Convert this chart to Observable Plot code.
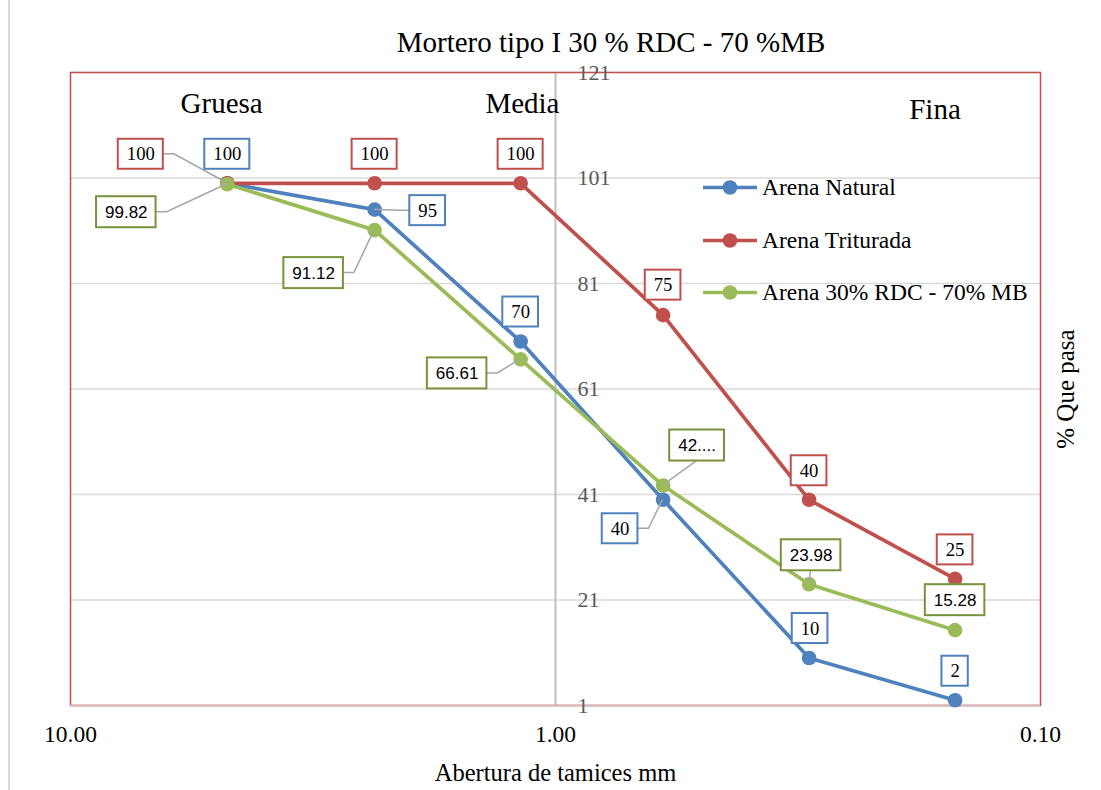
<!DOCTYPE html>
<html>
<head>
<meta charset="utf-8">
<script src="https://cdn.jsdelivr.net/npm/d3@7"></script>
<script src="https://cdn.jsdelivr.net/npm/@observablehq/plot@0.6"></script>
<style>
  html, body { margin: 0; padding: 0; background: #fff; }
  #wrap { position: relative; width: 1101px; height: 790px; overflow: hidden; font-family: "Liberation Serif", serif; }
  #chart { position: absolute; left: 0; top: 0; }
  #title { position: absolute; left: 611px; top: 42px; transform: translate(-50%, -50%); font-size: 29px; white-space: nowrap; color: #000; }
  #legend { position: absolute; left: 703px; top: 0; }
  .li { position: absolute; left: 0; display: flex; align-items: center; white-space: nowrap; font-size: 23.5px; color: #000; transform: translateY(-50%); }
  .li svg { margin-right: 3px; }
  #border { position: absolute; left: 8px; top: 0; width: 2px; height: 790px; background: #d9d9d9; }
</style>
</head>
<body>
<div id="wrap">
  <div id="chart"></div>
  <div id="border"></div>
  <div id="title"></div>
  <div id="legend"></div>
</div>
<script>
// ---- data ----
const sieves = [4.75, 2.36, 1.18, 0.6, 0.3, 0.15];
const natural = [100, 95, 70, 40, 10, 2];
const triturada = [100, 100, 100, 75, 40, 25];
const mezcla = [99.82, 91.12, 66.61, 42.7, 23.98, 15.28];
const seriesNames = ["Arena Natural", "Arena Triturada", "Arena 30% RDC - 70% MB"];
const seriesColors = ["#4f81bd", "#c0504d", "#9bbb59"];
const boxColors = ["#4f81bd", "#c0504d", "#77933c"];
const yTicks = [1, 21, 41, 61, 81, 101, 121];
const xTicks = [10, 1, 0.1];
const zoneNames = ["Gruesa", "Media", "Fina"];
const zoneX = [4.88, 1.17, 0.165];
const zoneY = [115, 115, 114];
const titleText = "Mortero tipo I 30 % RDC - 70 %MB";
const xLabel = "Abertura de tamices mm";
const yLabel = "% Que pasa";

// ---- label layout (pixel offsets from point, leader style) ----
const labelLayout = [
  [[0,-29,"none"],[53,1,"side"],[0,-29.5,"none"],[-43,29,"side"],[1,-29.5,"none"],[0,-29,"none"]],
  [[-86.5,-29,"side"],[0,-29,"none"],[0,-29,"none"],[0,-30,"none"],[0,-29,"none"],[0,-29,"none"]],
  [[-101,28,"side"],[-61,43,"side"],[-63.5,14,"side"],[34,-40,"bottom"],[2,-29,"bottom"],[0,-30,"none"]]
];
const truncated = [[], [], [3]];

const allValues = [natural, triturada, mezcla];
const rows = [];
allValues.forEach((vals, s) => vals.forEach((v, i) => rows.push({series: seriesNames[s], s, i, x: sieves[i], y: v})));

const labelItems = [];
allValues.forEach((vals, s) => vals.forEach((v, i) => {
  const [dx, dy, leader] = labelLayout[s][i];
  let text;
  if (s === 2) text = truncated[s].includes(i) ? String(Math.floor(v)) + "...." : d3.format(".2f")(v);
  else text = String(v);
  labelItems.push({s, i, x: sieves[i], y: v, dx, dy, leader, text});
}));

const serif = "Liberation Serif";
const sans = "Liberation Sans";

const marks = [
  Plot.ruleY(yTicks.slice(1), {stroke: "#d9d9d9", strokeWidth: 1.5}),
  Plot.ruleX([1], {stroke: "#bfbfbf", strokeWidth: 2}),
  Plot.frame({stroke: "#c0504d", strokeWidth: 1.5}),
  Plot.ruleY([1], {stroke: "#d6b8b8", strokeWidth: 2}),
  ...seriesNames.map((name, s) => Plot.line(rows.filter(r => r.s === s), {x: "x", y: "y", stroke: seriesColors[s], strokeWidth: 3.7})),
  ...seriesNames.map((name, s) => Plot.dot(rows.filter(r => r.s === s), {x: "x", y: "y", fill: seriesColors[s], r: 7.3, stroke: "none"})),
  Plot.text(yTicks, {x: () => 1, y: d => d, text: d => String(d), textAnchor: "start", dx: 22, fill: "#595959", fontSize: 22, fontFamily: serif}),
  Plot.text(zoneNames, {x: (d, i) => zoneX[i], y: (d, i) => zoneY[i], text: d => d, fontSize: 29, fontFamily: serif, fill: "#000"}),
  Plot.text(xTicks, {x: d => d, frameAnchor: "bottom", lineAnchor: "middle", dy: 29, text: d => d3.format(".2f")(d), fontSize: 23.5, fontFamily: serif, fill: "#000"}),
  Plot.text([xLabel], {frameAnchor: "bottom", lineAnchor: "middle", textAnchor: "middle", dy: 68, text: d => d, fontSize: 24.5, fontFamily: serif, fill: "#000"}),
  Plot.text([yLabel], {frameAnchor: "right", textAnchor: "middle", lineAnchor: "middle", dx: 25, rotate: -90, text: d => d, fontSize: 25, fontFamily: serif, fill: "#000"}),
  ...labelItems.map(L => Plot.text([L], {
    x: "x", y: "y", text: "text", dx: L.dx, dy: L.dy,
    fontSize: L.s === 2 ? 17 : 18.7, fontFamily: L.s === 2 ? sans : serif, fill: "#000"
  }))
];

const chart = Plot.plot({
  width: 1101, height: 790,
  marginLeft: 70, marginRight: 61, marginTop: 72, marginBottom: 85,
  x: {type: "log", domain: [10, 0.1], axis: null},
  y: {domain: [1, 121], axis: null},
  style: {fontFamily: serif, background: "transparent", overflow: "visible"},
  marks
});
document.getElementById("chart").append(chart);

// ---- label boxes and leader lines ----
const ns = "http://www.w3.org/2000/svg";
const sx = chart.scale("x"), sy = chart.scale("y");
const topGroups = Array.from(chart.children).filter(n => n.tagName.toLowerCase() === "g");
const labelGroups = topGroups.slice(-labelItems.length);
const deco = document.createElementNS(ns, "g");
chart.insertBefore(deco, labelGroups[0]);
const leaders = document.createElementNS(ns, "g");
const boxes = document.createElementNS(ns, "g");
deco.append(leaders, boxes);
labelItems.forEach((L, k) => {
  const t = labelGroups[k].querySelector("text");
  t.setAttribute("font-family", L.s === 2 ? sans : serif);
  t.style.fontFamily = L.s === 2 ? sans : serif;
  const w = t.getBBox().width;
  const px = sx.apply(L.x), py = sy.apply(L.y);
  const cx = px + L.dx, cy = py + L.dy;
  const padX = 8.5;
  const bw = w + 2 * padX, bh = L.s === 2 ? 31 : 30;
  const left = cx - bw / 2, right = cx + bw / 2, top = cy - bh / 2, bottom = cy + bh / 2;
  let d = null;
  if (L.leader === "side") {
    const edge = px < left ? left : right;
    const stub = px < left ? -11 : 11;
    d = `M${edge},${cy}H${edge + stub}L${px},${py}`;
  } else if (L.leader === "bottom") {
    d = py > bottom ? `M${cx},${bottom}L${px},${py}` : `M${cx},${top}L${px},${py}`;
  }
  if (d) {
    const p = document.createElementNS(ns, "path");
    p.setAttribute("d", d);
    p.setAttribute("fill", "none");
    p.setAttribute("stroke", "#a6a6a6");
    p.setAttribute("stroke-width", "1.5");
    leaders.append(p);
  }
  const r = document.createElementNS(ns, "rect");
  r.setAttribute("x", left); r.setAttribute("y", top);
  r.setAttribute("width", bw); r.setAttribute("height", bh);
  r.setAttribute("fill", "#fff");
  r.setAttribute("stroke", boxColors[L.s]);
  r.setAttribute("stroke-width", "2");
  boxes.append(r);
});

// ---- title and legend ----
document.getElementById("title").textContent = titleText;
const legendTops = [187, 240, 292];
const legend = document.getElementById("legend");
seriesNames.forEach((name, s) => {
  const item = document.createElement("div");
  item.className = "li";
  item.style.top = legendTops[s] + "px";
  item.innerHTML = `<svg width="56" height="18"><line x1="0" y1="9" x2="54" y2="9" stroke="${seriesColors[s]}" stroke-width="3.5"/><circle cx="27" cy="9" r="7.3" fill="${seriesColors[s]}"/></svg><span>${name}</span>`;
  legend.append(item);
});
</script>
</body>
</html>
